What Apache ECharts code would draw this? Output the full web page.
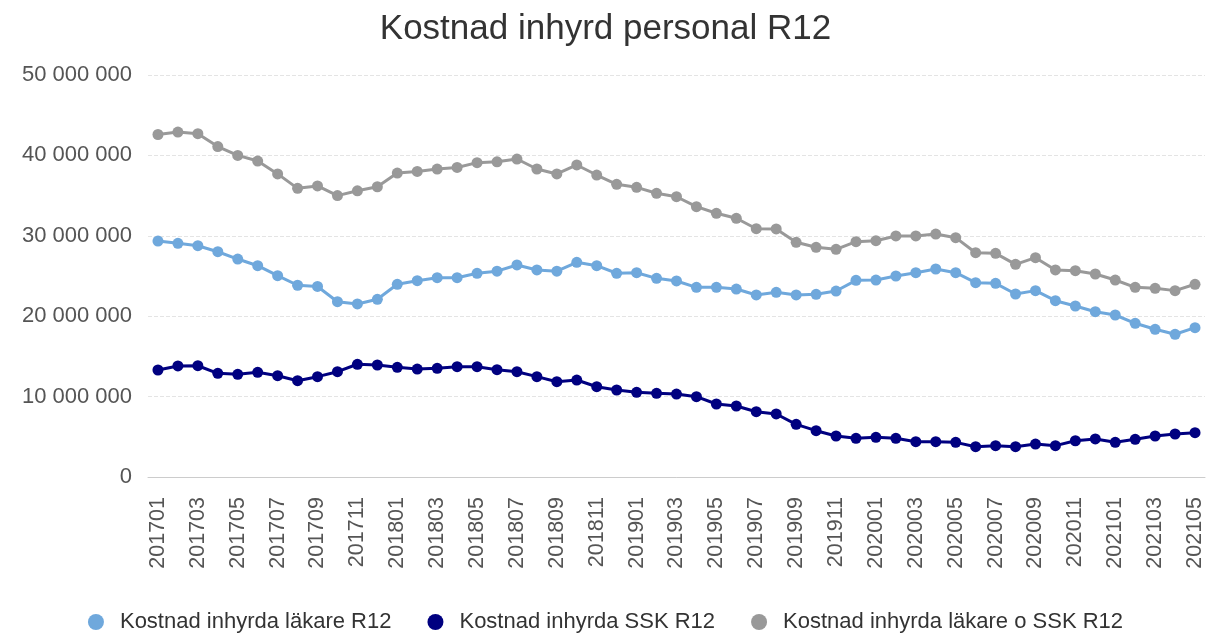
<!DOCTYPE html>
<html>
<head>
<meta charset="utf-8">
<script src="https://cdn.jsdelivr.net/npm/echarts@6/dist/echarts.min.js"></script>
<style>
  html, body { margin: 0; padding: 0; background: #fff; }
  #chart { width: 1211px; height: 634px; }
</style>
</head>
<body>
<div id="chart"></div>
<script>
var months = ['201701','201702','201703','201704','201705','201706','201707','201708','201709','201710','201711','201712',
  '201801','201802','201803','201804','201805','201806','201807','201808','201809','201810','201811','201812',
  '201901','201902','201903','201904','201905','201906','201907','201908','201909','201910','201911','201912',
  '202001','202002','202003','202004','202005','202006','202007','202008','202009','202010','202011','202012',
  '202101','202102','202103','202104','202105'];

var lakare = [29350000, 29070000, 28770000, 28020000, 27110000, 26280000, 25040000, 23850000, 23700000, 21800000, 21520000, 22100000,
  23970000, 24420000, 24790000, 24790000, 25340000, 25600000, 26370000, 25750000, 25600000, 26700000, 26280000, 25340000,
  25410000, 24710000, 24380000, 23590000, 23590000, 23380000, 22640000, 22970000, 22640000, 22720000, 23130000, 24460000,
  24500000, 25000000, 25410000, 25870000, 25410000, 24170000, 24090000, 22760000, 23180000, 21930000, 21270000, 20560000,
  20150000, 19120000, 18370000, 17750000, 18570000];

var ssk = [13310000, 13810000, 13840000, 12900000, 12770000, 13020000, 12600000, 11980000, 12480000, 13100000, 14020000, 13930000,
  13640000, 13430000, 13520000, 13720000, 13720000, 13350000, 13100000, 12480000, 11850000, 12060000, 11230000, 10820000,
  10530000, 10410000, 10320000, 9990000, 9080000, 8830000, 8120000, 7840000, 6550000, 5760000, 5100000, 4810000,
  4940000, 4810000, 4390000, 4390000, 4310000, 3770000, 3900000, 3770000, 4100000, 3900000, 4510000, 4730000,
  4310000, 4690000, 5100000, 5350000, 5510000];

var lakareOSsk = [42600000, 42900000, 42700000, 41100000, 40000000, 39300000, 37700000, 35900000, 36200000, 35000000, 35600000, 36100000,
  37800000, 38000000, 38300000, 38500000, 39100000, 39200000, 39550000, 38310000, 37690000, 38810000, 37560000, 36400000,
  36030000, 35290000, 34860000, 33620000, 32800000, 32180000, 30880000, 30850000, 29190000, 28570000, 28320000, 29270000,
  29390000, 29980000, 29980000, 30220000, 29770000, 27900000, 27820000, 26450000, 27280000, 25750000, 25660000, 25250000,
  24500000, 23590000, 23470000, 23180000, 23970000];

var seriesNames = ['Kostnad inhyrda läkare R12', 'Kostnad inhyrda SSK R12', 'Kostnad inhyrda läkare o SSK R12'];
var colors = ['#6fa8dc', '#000080', '#999999'];

function fmt(v) {
  return String(v).replace(/\B(?=(\d{3})+(?!\d))/g, ' ');
}

var chart = echarts.init(document.getElementById('chart'));

function line(name, data, color) {
  return {
    name: name,
    type: 'line',
    data: data,
    symbol: 'circle',
    symbolSize: 11,
    itemStyle: { color: color },
    lineStyle: { color: color, width: 3 }
  };
}

var option = {
  animation: false,
  textStyle: { fontFamily: 'Liberation Sans, Arial, sans-serif' },
  title: {
    text: 'Kostnad inhyrd personal R12',
    left: 'center',
    top: 7,
    textStyle: { fontSize: 35, fontWeight: 'normal', color: '#333' }
  },
  legend: {
    data: seriesNames,
    top: 606,
    left: 'center',
    icon: 'circle',
    itemWidth: 16,
    itemHeight: 16,
    itemGap: 36,
    textStyle: { fontSize: 22, color: '#333', padding: [0, 0, 0, 11] }
  },
  grid: { left: 148, right: 6, top: 75, bottom: 157 },
  xAxis: {
    type: 'category',
    data: months,
    boundaryGap: true,
    axisLine: { lineStyle: { color: '#cccccc' } },
    axisTick: { alignWithLabel: true, interval: 1, length: 8, lineStyle: { color: '#cccccc' } },
    axisLabel: { interval: 1, rotate: 90, fontSize: 21.5, color: '#555', margin: 20 }
  },
  yAxis: {
    type: 'value',
    min: 0,
    max: 50000000,
    interval: 10000000,
    axisLine: { show: false },
    axisTick: { show: false },
    axisLabel: { fontSize: 22, color: '#555', margin: 16, formatter: fmt },
    splitLine: { lineStyle: { color: '#e4e4e4', type: 'dashed' } }
  },
  series: [
    line(seriesNames[0], lakare, colors[0]),
    line(seriesNames[1], ssk, colors[1]),
    line(seriesNames[2], lakareOSsk, colors[2])
  ]
};

chart.setOption(option);
</script>
</body>
</html>
